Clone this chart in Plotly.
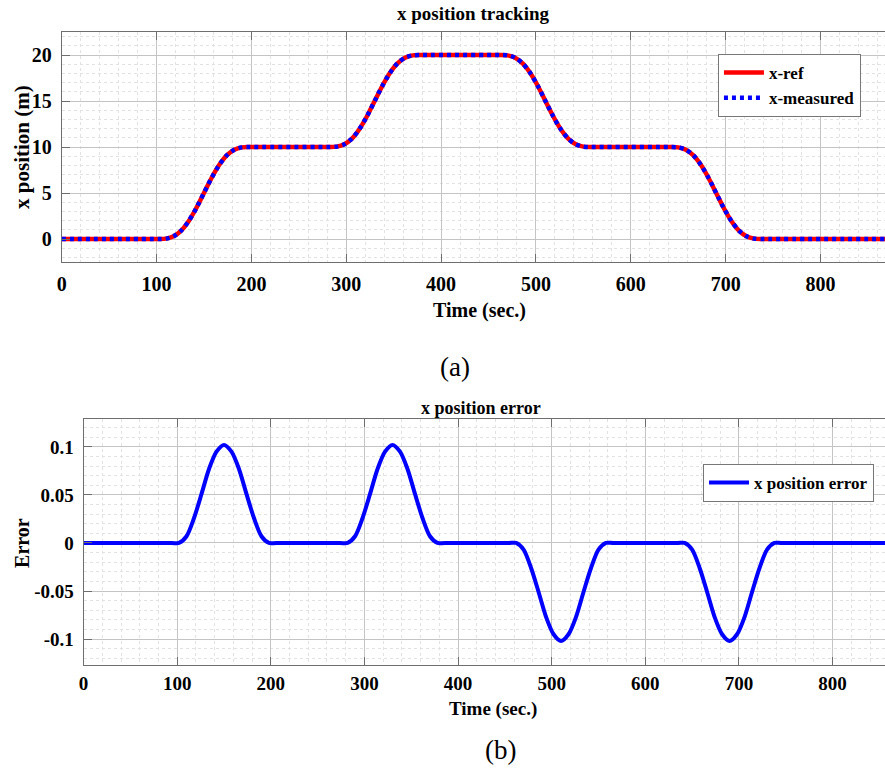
import plotly.graph_objects as go

# ---------------- data ----------------
time_s = [0, 94,
          102, 110, 118, 126, 134, 142, 150, 158, 166, 174, 182, 190, 198,
          206, 274,
          282, 290, 298, 306, 314, 322, 330, 338, 346, 354, 362, 370, 378,
          386, 454,
          462, 470, 478, 486, 494, 502, 510, 518, 526, 534, 542, 550, 558,
          566, 634,
          642, 650, 658, 666, 674, 682, 690, 698, 706, 714, 722, 730, 738,
          746, 870]

x_ref = [0, 0,
         0, 0.04, 0.29, 0.91, 1.96, 3.37, 5.0, 6.63, 8.04, 9.09, 9.71, 9.96, 10,
         10, 10,
         10, 10.04, 10.29, 10.91, 11.96, 13.37, 15.0, 16.63, 18.04, 19.09, 19.71, 19.96, 20,
         20, 20,
         20, 19.96, 19.71, 19.09, 18.04, 16.63, 15.0, 13.37, 11.96, 10.91, 10.29, 10.04, 10,
         10, 10,
         10, 9.96, 9.71, 9.09, 8.04, 6.63, 5.0, 3.37, 1.96, 0.91, 0.29, 0.04, 0,
         0, 0]

x_measured = [0, 0,
              0, 0.04, 0.29, 0.91, 1.96, 3.37, 5.0, 6.63, 8.04, 9.09, 9.71, 9.96, 10,
              10, 10,
              10, 10.04, 10.29, 10.91, 11.96, 13.37, 15.0, 16.63, 18.04, 19.09, 19.71, 19.96, 20,
              20, 20,
              20, 19.96, 19.71, 19.09, 18.04, 16.63, 15.0, 13.37, 11.96, 10.91, 10.29, 10.04, 10,
              10, 10,
              10, 9.96, 9.71, 9.09, 8.04, 6.63, 5.0, 3.37, 1.96, 0.91, 0.29, 0.04, 0,
              0, 0]

x_error = [0, 0,
           0, 0.007, 0.026, 0.051, 0.077, 0.095, 0.102, 0.095, 0.077, 0.051, 0.026, 0.007, 0,
           0, 0,
           0, 0.007, 0.026, 0.051, 0.077, 0.095, 0.102, 0.095, 0.077, 0.051, 0.026, 0.007, 0,
           0, 0,
           0, -0.007, -0.026, -0.051, -0.077, -0.095, -0.102, -0.095, -0.077, -0.051, -0.026, -0.007, 0,
           0, 0,
           0, -0.007, -0.026, -0.051, -0.077, -0.095, -0.102, -0.095, -0.077, -0.051, -0.026, -0.007, 0,
           0, 0]

x_ticks = [0, 100, 200, 300, 400, 500, 600, 700, 800]
pos_ticks = [0, 5, 10, 15, 20]
err_ticks = [-0.1, -0.05, 0, 0.05, 0.1]
err_tick_text = ["-0.1", "-0.05", "0", "0.05", "0.1"]

# ---------------- figure ----------------
W, H = 885, 773
FONT = "Liberation Serif, Times New Roman, serif"

fig = go.Figure()

fig.add_trace(go.Scatter(x=time_s, y=x_ref, name="x-ref", mode="lines",
                         line=dict(color="#ff0000", width=4.5, shape="spline", smoothing=0.8),
                         xaxis="x", yaxis="y", legend="legend"))
fig.add_trace(go.Scatter(x=time_s, y=x_measured, name="x-measured", mode="lines",
                         line=dict(color="#0000ff", width=4.5, dash="4px,4px",
                                   shape="spline", smoothing=0.8),
                         xaxis="x", yaxis="y", legend="legend"))
fig.add_trace(go.Scatter(x=time_s, y=x_error, name="x position error", mode="lines",
                         line=dict(color="#0000ff", width=4, shape="spline", smoothing=0.8),
                         xaxis="x2", yaxis="y2", legend="legend2"))

def px_x(p):
    return p / W

def px_y(p):
    return 1 - p / H

grid_major = "#c4c4c4"
grid_minor = "#e2e2e2"
axis_line = "#6e6e6e"

def tickfont(size):
    return dict(family=FONT, size=size, weight="bold", color="black")

def x_axis(domain, rng, anchor, size, standoff):
    return dict(domain=domain, range=rng, anchor=anchor,
                showgrid=True, gridcolor=grid_major, gridwidth=1,
                showline=True, linecolor=axis_line, linewidth=1, mirror="ticks",
                zeroline=False, ticks="inside", ticklen=8, tickcolor=axis_line,
                tickwidth=1, tickvals=x_ticks, ticklabelstandoff=standoff,
                tickfont=tickfont(size),
                minor=dict(dtick=20, showgrid=True, gridcolor=grid_minor,
                           griddash="dot", gridwidth=1))

common_y = dict(showgrid=True, gridcolor=grid_major, gridwidth=1,
                showline=True, linecolor=axis_line, linewidth=1,
                zeroline=False, ticks="inside", ticklen=8, tickcolor=axis_line,
                tickwidth=1, ticklabelstandoff=5)

fig.update_layout(
    width=W, height=H,
    margin=dict(l=0, r=0, t=0, b=0),
    paper_bgcolor="white", plot_bgcolor="white",
    font=dict(family=FONT, color="black"),
    xaxis=x_axis([px_x(57), 1.0], [0, 868], "y", 20, 4),
    yaxis=dict(domain=[px_y(262), px_y(32)], range=[-2.5, 22.5], anchor="x",
               tickvals=pos_ticks, tickfont=tickfont(20),
               minor=dict(dtick=1, showgrid=True, gridcolor=grid_minor,
                          griddash="dot", gridwidth=1),
               **common_y),
    xaxis2=x_axis([px_x(79), 1.0], [0, 856], "y2", 19, 1),
    yaxis2=dict(domain=[px_y(665), px_y(419)], range=[-0.127, 0.129], anchor="x2",
                tickvals=err_ticks, ticktext=err_tick_text, tickfont=tickfont(19),
                minor=dict(dtick=0.01, showgrid=True, gridcolor=grid_minor,
                           griddash="dot", gridwidth=1),
                **common_y),
    legend=dict(x=px_x(717), y=px_y(54), xanchor="left", yanchor="top",
                bgcolor="white", bordercolor="#777777", borderwidth=1,
                font=dict(family=FONT, size=17, weight="bold"),
                tracegroupgap=0, itemwidth=40),
    legend2=dict(x=px_x(702), y=px_y(464), xanchor="left", yanchor="top",
                 bgcolor="white", bordercolor="#777777", borderwidth=1,
                 font=dict(family=FONT, size=17, weight="bold"),
                 itemwidth=40),
    showlegend=True,
)

def ann(text, x, y, size, bold=True, angle=0):
    fig.add_annotation(text=text, x=px_x(x), y=px_y(y), xref="paper", yref="paper",
                       xanchor="center", yanchor="middle", showarrow=False,
                       textangle=angle,
                       font=dict(family=FONT, size=size, color="black",
                                 weight="bold" if bold else "normal"))

ann("x position tracking", 471, 13, 19)
ann("Time (sec.)", 477, 310, 20)
ann("x position (m)", 17, 147, 21, angle=-90)
ann("(a)", 453, 367, 27, bold=False)

ann("x position error", 479, 408, 18)
ann("Time (sec.)", 491, 709, 19)
ann("Error", 17, 543, 20, angle=-90)
ann("(b)", 498, 750, 27, bold=False)

fig.write_html("out.html")
